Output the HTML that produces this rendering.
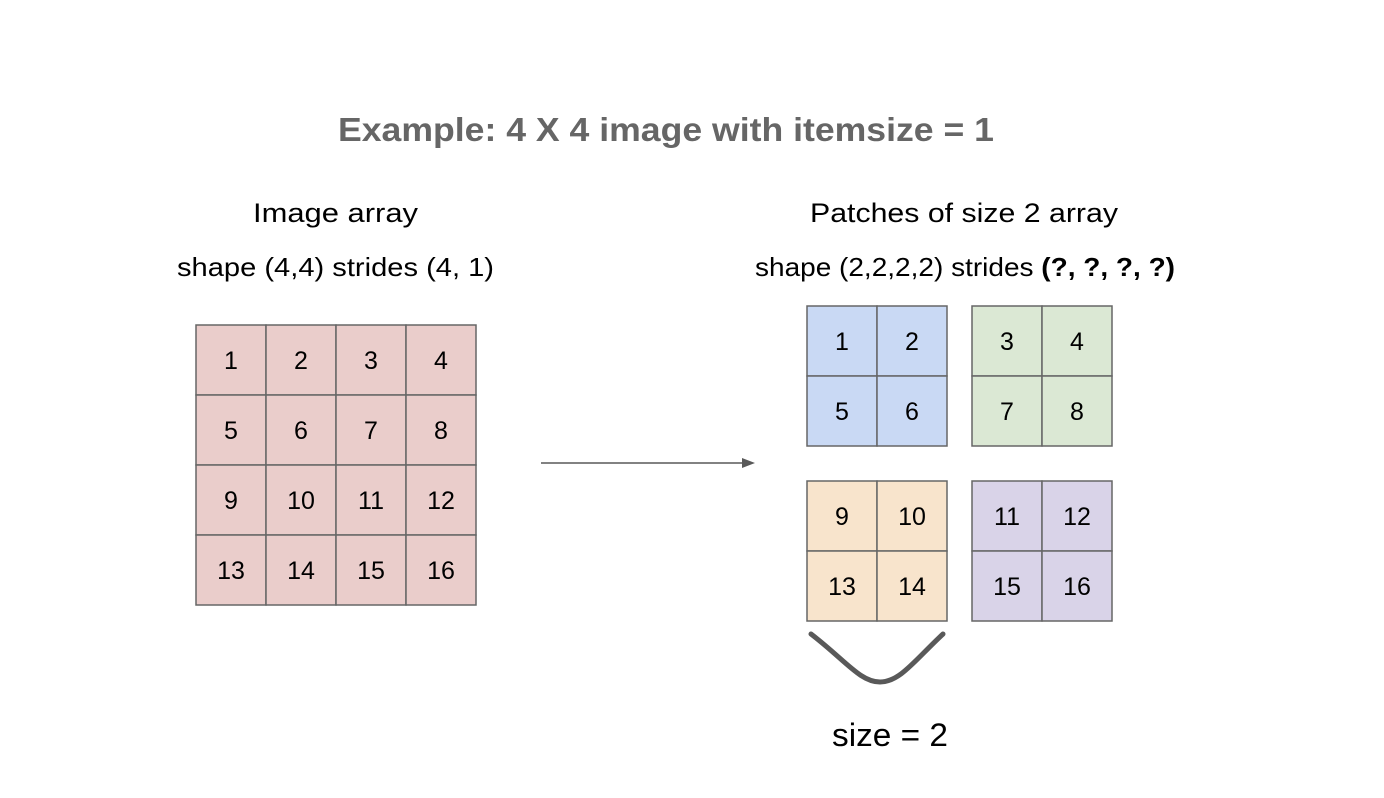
<!DOCTYPE html>
<html><head><meta charset="utf-8"><style>
body{margin:0;background:#fff;}
svg{display:block;font-family:"Liberation Sans",sans-serif;}
</style></head><body>
<svg id="s" width="1384" height="798" viewBox="0 0 1384 798">
<text x="338" y="141" font-size="33" font-weight="bold" fill="#666" textLength="656" lengthAdjust="spacingAndGlyphs">Example: 4 X 4 image with itemsize = 1</text>
<text x="253" y="222" font-size="27" fill="#000" textLength="165" lengthAdjust="spacingAndGlyphs">Image array</text>
<text x="177" y="276" font-size="26" fill="#000" textLength="317" lengthAdjust="spacingAndGlyphs">shape (4,4) strides (4, 1)</text>
<text x="810" y="222" font-size="27" fill="#000" textLength="308" lengthAdjust="spacingAndGlyphs">Patches of size 2 array</text>
<text x="755" y="276" font-size="26" fill="#000" textLength="420" lengthAdjust="spacingAndGlyphs">shape (2,2,2,2) strides <tspan font-weight="bold">(?, ?, ?, ?)</tspan></text>
<g id="cells"></g>
<line x1="541" y1="463" x2="745" y2="463" stroke="#595959" stroke-width="1.5"/>
<polygon points="755,463 742,458 742,468" fill="#595959"/>
<path d="M811,634 C845,660 860,682 880,682 C900,682 915,660 943,634" fill="none" stroke="#595959" stroke-width="5" stroke-linecap="round"/>
<text x="832" y="746" font-size="32" fill="#000" textLength="116" lengthAdjust="spacingAndGlyphs">size = 2</text>
</svg>
<script>
const g=document.getElementById('cells');
const NS='http://www.w3.org/2000/svg';
function cell(x,y,fill,num){
  const r=document.createElementNS(NS,'rect');
  r.setAttribute('x',x);r.setAttribute('y',y);r.setAttribute('width',70);r.setAttribute('height',70);
  r.setAttribute('fill',fill);r.setAttribute('stroke','#666');r.setAttribute('stroke-width','1.5');
  
  
  g.appendChild(r);
  const t=document.createElementNS(NS,'text');
  t.setAttribute('x',x+35);t.setAttribute('y',y+44);t.setAttribute('text-anchor','middle');t.setAttribute('font-size','25');
  t.textContent=num;
  
  
  g.appendChild(t);
}
for(let r=0;r<4;r++)for(let c=0;c<4;c++)cell(196+c*70,325+r*70,'#eacdcb',r*4+c+1);
const patches=[[807,306,'#c9d9f4',[1,2,5,6]],[972,306,'#dbe8d4',[3,4,7,8]],[807,481,'#f8e4cc',[9,10,13,14]],[972,481,'#d9d3e8',[11,12,15,16]]];
patches.forEach(p=>{for(let i=0;i<4;i++)cell(p[0]+(i%2)*70,p[1]+Math.floor(i/2)*70,p[2],p[3][i]);});
</script>
</body></html>
